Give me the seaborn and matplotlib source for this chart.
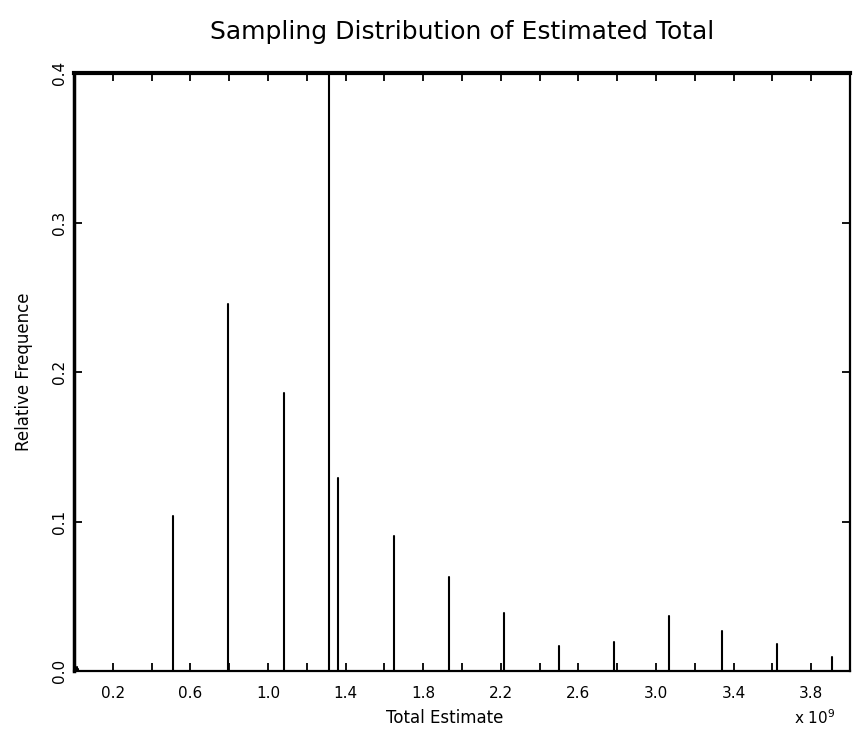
import numpy as np
import pandas as pd
import matplotlib
matplotlib.use("Agg")
import matplotlib.pyplot as plt
import seaborn as sns

# Data (x in units of 1e9)
estimates = [0.006, 0.013, 0.022, 0.510, 0.794, 1.080, 1.316, 1.363, 1.647, 1.931,
             2.216, 2.500, 2.784, 3.068, 3.341, 3.625, 3.909]
rel_freq = [0.005, 0.003, 0.0015, 0.1035, 0.2456, 0.186, 0.400, 0.129, 0.090, 0.063,
            0.039, 0.0167, 0.0196, 0.037, 0.027, 0.0178, 0.0096]
x_tick_labels = ["0.2", "0.6", "1.0", "1.4", "1.8", "2.2", "2.6", "3.0", "3.4", "3.8"]
y_tick_labels = ["0.0", "0.1", "0.2", "0.3", "0.4"]

sns.set_style("white")
plt.rcParams['font.family'] = ['DejaVu Sans']
plt.rcParams['text.color'] = 'black'
plt.rcParams['axes.labelcolor'] = 'black'
plt.rcParams['xtick.color'] = 'black'
plt.rcParams['ytick.color'] = 'black'

# long-form table: each stem as two points
rows = []
for i, (xv, yv) in enumerate(zip(estimates, rel_freq)):
    rows.append({"id": i, "x": xv, "y": 0.0})
    rows.append({"id": i, "x": xv, "y": yv})
df = pd.DataFrame(rows)

fig = plt.figure(figsize=(8.54, 7.44), dpi=100)
ax = fig.add_axes([74/854, 1-671/744, (850-74)/854, (671-73)/744])

sns.lineplot(data=df, x="x", y="y", units="id", estimator=None, sort=False,
             color="black", linewidth=1.5, ax=ax, legend=False)

ax.set_xlim(0, 4.0)
ax.set_ylim(0, 0.4)

xt = [float(s) for s in x_tick_labels]
ax.set_xticks(xt)
ax.set_xticklabels(x_tick_labels, fontsize=11)
ax.set_xticks([0.4, 0.8, 1.2, 1.6, 2.0, 2.4, 2.8, 3.2, 3.6], minor=True)
yt = [float(s) for s in y_tick_labels]
ax.set_yticks(yt)
ax.set_yticklabels(y_tick_labels, fontsize=11, rotation=90, va="center")

ax.tick_params(axis="both", which="both", direction="in", length=6, width=1.3,
               top=True, right=True, bottom=True, left=True, color="black",
               labelcolor="black")
ax.tick_params(axis="x", which="both", pad=11)
ax.tick_params(axis="y", which="both", pad=5)

for side, lw in [("left", 2.5), ("top", 3.0), ("bottom", 1.6), ("right", 1.6)]:
    ax.spines[side].set_visible(True)
    ax.spines[side].set_color("black")
    ax.spines[side].set_linewidth(lw)

ax.set_xlabel("")
ax.set_ylabel("Relative Frequence", fontsize=12, labelpad=14, color="black")
fig.text(445/854, 1-718/744, "Total Estimate", fontsize=12, ha="center", va="center",
         color="black")
fig.text(815/854, 1-718/744, r"x 10$^9$", fontsize=11, ha="center", va="center",
         color="black")
fig.text(462/854, 1-32/744, "Sampling Distribution of Estimated Total",
         fontsize=18, ha="center", va="center", color="black")

fig.savefig("out.png", dpi=100, facecolor="white")
